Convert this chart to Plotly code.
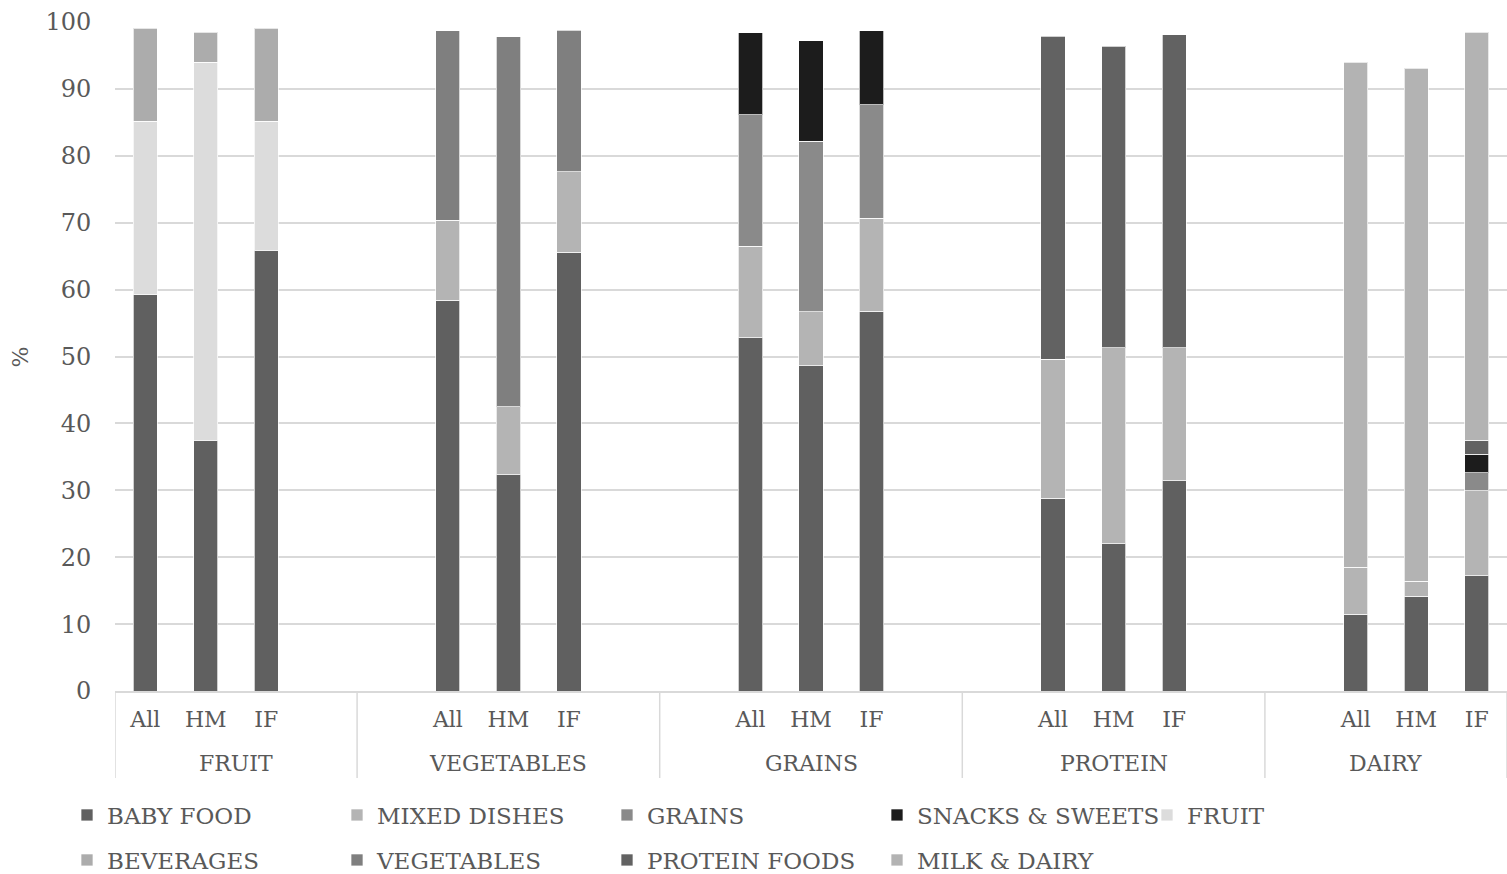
import plotly.graph_objects as go

groups = ["FRUIT", "VEGETABLES", "GRAINS", "PROTEIN", "DAIRY"]
subgroups = ["All", "HM", "IF"]

# slot layout of the category axis (blank slots separate groups)
slot_layout = [
    "FRUIT All", "FRUIT HM", "FRUIT IF", "_b1",
    "_b2", "VEGETABLES All", "VEGETABLES HM", "VEGETABLES IF", "_b3",
    "_b4", "GRAINS All", "GRAINS HM", "GRAINS IF", "_b5",
    "_b6", "PROTEIN All", "PROTEIN HM", "PROTEIN IF", "_b7",
    "_b8", "DAIRY All", "DAIRY HM", "DAIRY IF",
]

series_names = ["BABY FOOD", "MIXED DISHES", "GRAINS", "SNACKS & SWEETS", "FRUIT",
                "BEVERAGES", "VEGETABLES", "PROTEIN FOODS", "MILK & DAIRY"]

N = None
baby_food = [59.2, 37.5, 65.9, 58.4, 32.3, 65.6, 52.8, 48.6, 56.8, 28.8, 22.0, 31.4, 11.5, 14.2, 17.2]
mixed_dishes = [N, N, N, 12.0, 10.2, 12.0, 13.7, 8.1, 13.9, 20.8, 29.3, 19.9, 7.0, 2.2, 12.7]
grains = [N, N, N, N, N, N, 19.6, 25.5, 16.9, N, N, N, N, N, 2.7]
snacks_sweets = [N, N, N, N, N, N, 12.3, 15.0, 11.1, N, N, N, N, N, 2.8]
fruit = [26.0, 56.5, 19.3, N, N, N, N, N, N, N, N, N, N, N, N]
beverages = [13.9, 4.5, 13.9, N, N, N, N, N, N, N, N, N, N, N, N]
vegetables = [N, N, N, 28.3, 55.3, 21.2, N, N, N, N, N, N, N, N, N]
protein_foods = [N, N, N, N, N, N, N, N, N, 48.3, 45.1, 46.8, N, N, 2.1]
milk_dairy = [N, N, N, N, N, N, N, N, N, N, N, N, 75.5, 76.7, 61.0]

series_values = [baby_food, mixed_dishes, grains, snacks_sweets, fruit,
                 beverages, vegetables, protein_foods, milk_dairy]
colors = ["#606060", "#b4b4b4", "#8a8a8a", "#1c1c1c", "#dcdcdc",
          "#acacac", "#7f7f7f", "#626262", "#b3b3b3"]

x_ids = [f"{g} {s}" for g in groups for s in subgroups]

FONT = "DejaVu Serif"
TXT = "#595959"
W, H = 1507, 874
L, R, T, B = 115, 0, 22, 183

fig = go.Figure()
for i, (name, vals, col) in enumerate(zip(series_names, series_values, colors)):
    fig.add_trace(go.Bar(
        x=x_ids, y=vals, name=name,
        marker=dict(color=col, line=dict(color="rgba(255,255,255,0.7)", width=1)),
        width=0.4,
        legend="legend" if i < 5 else "legend2",
    ))

ph = H - T - B  # plot height px
pw = W - L - R

shapes = []
for xs in [-0.5, 3.5, 8.5, 13.5, 18.5, 22.5]:
    shapes.append(dict(type="line", xref="x", yref="paper", x0=xs, x1=xs,
                       y0=0, y1=-87 / ph, line=dict(color="#d9d9d9", width=1.5)))

annotations = []
group_centers = [1.5, 6, 11, 16, 20.5]
for g, c in zip(groups, group_centers):
    annotations.append(dict(text=g, x=c, xref="x", y=-72 / ph, yref="paper",
                            showarrow=False, font=dict(family=FONT, size=22, color=TXT),
                            xanchor="center", yanchor="middle"))
annotations.append(dict(text="%", x=-95 / pw, xref="paper", y=0.5, yref="paper",
                        showarrow=False, textangle=-90, xanchor="center", yanchor="middle",
                        font=dict(family=FONT, size=22, color=TXT)))

legend_common = dict(orientation="h", xref="container", yref="container",
                     xanchor="left", yanchor="middle", entrywidth=225, entrywidthmode="pixels",
                     traceorder="normal", font=dict(family=FONT, size=23, color=TXT),
                     bgcolor="rgba(0,0,0,0)")

fig.update_layout(
    width=W, height=H,
    margin=dict(l=L, r=R, t=T, b=B, autoexpand=False),
    barmode="stack", bargap=0.6,
    plot_bgcolor="white", paper_bgcolor="white",
    font=dict(family=FONT, size=22, color=TXT),
    xaxis=dict(type="category", categoryorder="array", categoryarray=slot_layout,
               range=[-0.5, 22.5], tickvals=x_ids, ticktext=[s for g in groups for s in subgroups],
               showgrid=False, showline=True, linecolor="#d9d9d9", linewidth=1.5,
               ticks="outside", ticklen=8, tickcolor="rgba(0,0,0,0)", automargin=False,
               tickfont=dict(family=FONT, size=22, color=TXT), fixedrange=True),
    yaxis=dict(range=[0, 100], dtick=10, showgrid=True, gridcolor="#d9d9d9", gridwidth=1.5,
               zeroline=False, showline=False, ticks="outside", ticklen=18, automargin=False,
               tickcolor="rgba(0,0,0,0)", tickfont=dict(family=FONT, size=24, color=TXT)),
    showlegend=True,
    legend=dict(x=67 / W, y=1 - 815 / H, **legend_common),
    legend2=dict(x=67 / W, y=1 - 860 / H, **legend_common),
    shapes=shapes, annotations=annotations,
)

fig.write_html(
    "out.html",
    config={"displayModeBar": False},
    post_script="document.body.style.margin='0';document.body.style.padding='0';"
                "document.body.style.overflow='hidden';",
)
